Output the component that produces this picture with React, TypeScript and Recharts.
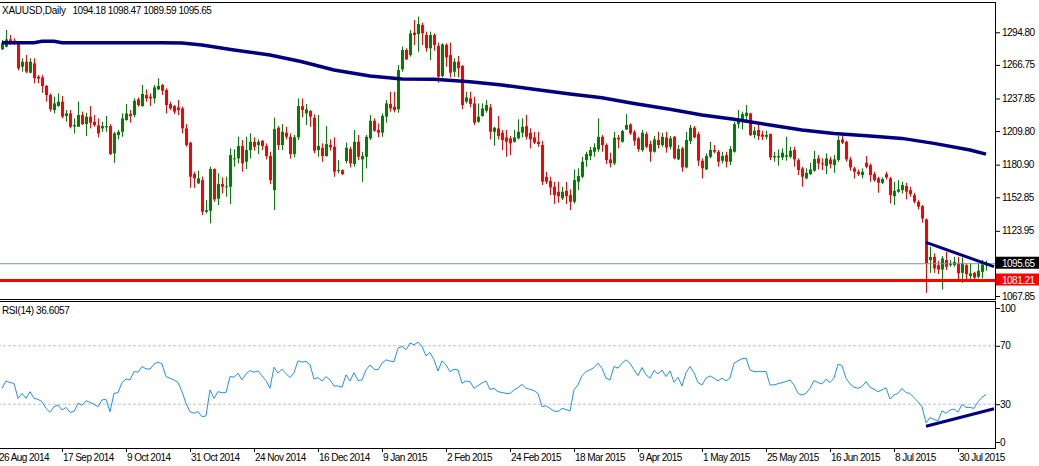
import React from 'react';
import { ComposedChart, Bar, Line, XAxis, YAxis, ReferenceLine } from 'recharts';

// XAUUSD daily candles (index 0 = first visible bar)
const opens = [
  1280.1, 1282.4, 1288.7, 1287.6, 1285.3, 1265.2, 1269.5, 1260.0, 1268.1, 1256.6,
  1256.0, 1248.6, 1240.8, 1227.9, 1231.3, 1235.1, 1222.7, 1225.0, 1213.8, 1213.5,
  1223.6, 1215.8, 1222.2, 1217.8, 1214.7, 1212.1, 1213.0, 1214.1, 1190.6, 1206.4,
  1209.2, 1219.3, 1224.4, 1223.6, 1237.1, 1231.3, 1240.8, 1239.4, 1237.9, 1245.7,
  1249.4, 1245.1, 1233.0, 1231.3, 1230.2, 1229.3, 1212.1, 1199.8, 1172.8, 1164.8,
  1167.6, 1140.4, 1141.2, 1177.1, 1151.6, 1164.2, 1161.6, 1161.9, 1185.7, 1186.3,
  1196.9, 1183.4, 1193.5, 1200.6, 1197.8, 1201.5, 1196.9, 1188.3, 1159.0, 1212.7,
  1197.8, 1208.4, 1204.9, 1190.0, 1204.4, 1231.3, 1225.0, 1227.0, 1221.3, 1193.5,
  1195.5, 1188.3, 1197.8, 1196.3, 1175.7, 1176.2, 1184.0, 1194.3, 1181.4, 1200.6,
  1185.4, 1187.7, 1203.5, 1218.7, 1210.7, 1208.4, 1222.2, 1233.1, 1230.8, 1228.5,
  1262.9, 1279.6, 1275.2, 1294.5, 1293.3, 1301.1, 1292.5, 1281.0, 1292.5, 1283.0,
  1257.2, 1283.9, 1275.2, 1260.9, 1269.5, 1265.8, 1235.1, 1237.9, 1233.6, 1217.8,
  1222.7, 1227.3, 1230.2, 1209.2, 1212.1, 1208.4, 1204.4, 1203.5, 1200.6, 1203.5,
  1208.4, 1214.1, 1208.4, 1204.4, 1200.6, 1197.8, 1170.5, 1166.8, 1161.9, 1157.6,
  1151.9, 1158.4, 1154.7, 1149.0, 1166.2, 1170.5, 1184.8, 1188.3, 1192.0, 1194.0,
  1204.9, 1197.8, 1185.4, 1182.0, 1204.1, 1200.6, 1211.2, 1215.5, 1208.9, 1203.5,
  1193.5, 1207.2, 1198.6, 1192.0, 1202.1, 1197.8, 1204.4, 1196.3, 1204.9, 1185.4,
  1194.9, 1178.5, 1201.2, 1212.7, 1207.2, 1184.3, 1176.8, 1187.7, 1193.5, 1192.0,
  1184.3, 1189.1, 1183.4, 1192.0, 1215.8, 1219.3, 1222.7, 1225.0, 1206.4, 1210.7,
  1206.9, 1204.9, 1207.2, 1187.1, 1187.1, 1187.1, 1187.7, 1187.7, 1193.5, 1184.8,
  1177.7, 1169.1, 1172.8, 1175.7, 1186.3, 1182.0, 1179.7, 1185.4, 1180.5, 1184.8,
  1202.6, 1200.6, 1185.4, 1177.7, 1174.8, 1171.9, 1182.5, 1180.5, 1172.8, 1169.1,
  1165.3, 1172.8, 1169.1, 1153.8, 1157.6, 1159.0, 1162.5, 1159.0, 1154.7, 1149.0,
  1145.2, 1133.8, 1098.8, 1101.6, 1094.4, 1090.7, 1098.8, 1094.4, 1094.4, 1095.9,
  1087.8, 1094.4, 1085.0, 1087.8, 1084.4, 1088.7, 1094.18,
];
const highs = [
  1288.2, 1296.8, 1292.5, 1289.6, 1287.0, 1272.4, 1275.2, 1272.4, 1272.4, 1258.0,
  1258.0, 1249.4, 1242.2, 1239.4, 1242.2, 1240.0, 1227.9, 1227.9, 1220.7, 1235.1,
  1226.5, 1225.6, 1231.3, 1223.6, 1220.7, 1217.8, 1222.7, 1215.8, 1209.2, 1210.7,
  1225.0, 1233.0, 1227.9, 1237.9, 1238.8, 1249.4, 1245.7, 1242.2, 1249.4, 1255.2,
  1250.3, 1246.5, 1235.1, 1232.2, 1236.5, 1230.8, 1215.8, 1200.6, 1174.8, 1175.7,
  1170.5, 1150.4, 1179.1, 1177.7, 1173.4, 1169.9, 1170.5, 1194.9, 1194.0, 1204.9,
  1202.1, 1204.9, 1207.8, 1204.4, 1202.6, 1202.1, 1199.2, 1192.0, 1221.3, 1214.1,
  1215.8, 1213.5, 1207.8, 1206.4, 1237.9, 1237.9, 1233.1, 1227.9, 1224.2, 1223.6,
  1199.2, 1214.1, 1202.6, 1204.4, 1184.8, 1176.8, 1199.8, 1196.3, 1210.7, 1206.4,
  1192.0, 1206.4, 1223.6, 1220.7, 1216.4, 1225.0, 1236.5, 1243.7, 1243.7, 1266.6,
  1282.4, 1281.0, 1296.8, 1305.4, 1308.3, 1303.1, 1295.3, 1295.3, 1293.9, 1285.9,
  1285.3, 1285.3, 1285.9, 1272.4, 1274.4, 1266.6, 1243.7, 1243.7, 1239.4, 1233.6,
  1233.6, 1236.5, 1233.1, 1213.5, 1222.7, 1210.7, 1210.7, 1205.5, 1210.7, 1219.9,
  1220.7, 1223.6, 1212.1, 1209.2, 1209.2, 1201.5, 1174.8, 1170.5, 1166.2, 1166.2,
  1161.9, 1166.2, 1159.6, 1176.8, 1177.7, 1187.7, 1192.0, 1196.3, 1199.2, 1220.7,
  1206.4, 1199.2, 1191.2, 1209.2, 1206.4, 1210.7, 1224.4, 1216.4, 1210.7, 1204.9,
  1210.7, 1209.2, 1201.5, 1205.5, 1209.2, 1208.4, 1209.2, 1205.5, 1205.5, 1197.8,
  1196.3, 1209.2, 1215.0, 1214.1, 1209.2, 1186.3, 1190.6, 1200.6, 1197.8, 1193.5,
  1192.0, 1192.0, 1196.9, 1217.8, 1227.9, 1226.5, 1232.2, 1225.6, 1213.5, 1217.0,
  1210.1, 1210.1, 1207.8, 1192.0, 1194.0, 1194.9, 1204.9, 1196.3, 1196.3, 1186.3,
  1179.1, 1177.7, 1182.5, 1192.9, 1189.1, 1186.3, 1190.6, 1187.7, 1189.1, 1205.5,
  1205.5, 1201.5, 1187.7, 1179.1, 1176.8, 1177.7, 1188.3, 1182.0, 1174.8, 1170.5,
  1169.9, 1174.8, 1170.5, 1166.2, 1167.6, 1166.2, 1165.3, 1161.9, 1156.7, 1150.4,
  1146.1, 1134.6, 1110.2, 1104.5, 1098.2, 1102.2, 1105.9, 1098.8, 1101.6, 1101.6,
  1101.0, 1095.9, 1095.9, 1088.7, 1095.9, 1098.8, 1098.47,
];
const lows = [
  1279.6, 1281.8, 1283.9, 1283.9, 1262.0, 1260.9, 1259.5, 1259.5, 1250.9, 1250.9,
  1242.8, 1235.1, 1226.5, 1225.0, 1230.8, 1220.7, 1217.9, 1212.1, 1207.8, 1213.5,
  1215.0, 1205.5, 1212.1, 1213.5, 1204.4, 1209.2, 1209.2, 1189.1, 1182.5, 1202.6,
  1204.9, 1218.7, 1217.0, 1221.6, 1230.8, 1230.8, 1235.1, 1231.3, 1233.6, 1245.1,
  1240.8, 1225.0, 1227.9, 1224.4, 1223.6, 1207.8, 1196.3, 1161.0, 1161.0, 1164.2,
  1137.5, 1138.9, 1130.3, 1149.0, 1146.1, 1156.1, 1153.3, 1147.0, 1179.1, 1182.0,
  1174.8, 1177.1, 1186.3, 1192.9, 1190.0, 1193.5, 1185.4, 1164.2, 1141.8, 1193.5,
  1193.5, 1202.6, 1186.0, 1187.1, 1202.1, 1221.6, 1215.0, 1213.5, 1190.6, 1187.7,
  1183.4, 1187.7, 1192.9, 1170.5, 1173.4, 1171.9, 1182.0, 1178.5, 1179.1, 1184.8,
  1166.2, 1177.7, 1202.1, 1209.2, 1204.4, 1204.9, 1217.0, 1226.5, 1225.9, 1225.6,
  1260.9, 1270.9, 1273.8, 1283.9, 1278.1, 1283.9, 1278.1, 1270.9, 1279.0, 1251.4,
  1256.0, 1265.2, 1256.0, 1256.6, 1256.0, 1228.5, 1233.6, 1230.2, 1215.0, 1217.0,
  1222.2, 1225.6, 1202.6, 1197.2, 1202.6, 1193.5, 1187.7, 1189.1, 1199.8, 1202.6,
  1204.4, 1202.6, 1194.9, 1198.6, 1196.3, 1163.3, 1164.2, 1154.7, 1147.0, 1148.1,
  1150.4, 1147.0, 1141.8, 1147.5, 1159.0, 1169.1, 1179.1, 1184.8, 1187.7, 1192.0,
  1192.0, 1181.4, 1178.5, 1180.5, 1194.9, 1199.8, 1210.7, 1206.4, 1197.2, 1192.0,
  1192.0, 1194.9, 1183.4, 1191.2, 1194.9, 1196.3, 1191.2, 1194.0, 1185.4, 1184.8,
  1174.8, 1177.7, 1198.6, 1203.5, 1179.7, 1169.1, 1176.2, 1186.3, 1190.6, 1179.1,
  1182.0, 1178.5, 1180.5, 1191.2, 1212.1, 1211.2, 1219.3, 1205.5, 1203.5, 1202.1,
  1202.1, 1202.6, 1184.8, 1183.4, 1180.0, 1184.8, 1184.3, 1186.3, 1179.1, 1171.9,
  1161.9, 1168.2, 1171.9, 1174.8, 1176.8, 1176.2, 1172.8, 1177.7, 1173.9, 1183.4,
  1198.6, 1183.4, 1175.7, 1169.1, 1171.1, 1169.1, 1177.7, 1166.2, 1166.2, 1156.7,
  1164.2, 1168.2, 1147.5, 1146.1, 1156.7, 1156.1, 1151.0, 1153.3, 1147.5, 1142.4,
  1130.9, 1070.6, 1087.8, 1087.8, 1086.7, 1073.5, 1090.1, 1093.0, 1093.0, 1081.5,
  1079.2, 1081.5, 1082.1, 1082.1, 1083.0, 1083.0, 1089.59,
];
const closes = [
  1285.9, 1288.7, 1285.3, 1284.7, 1263.8, 1269.5, 1260.9, 1269.5, 1255.2, 1254.9,
  1248.6, 1240.8, 1228.5, 1233.6, 1235.1, 1222.2, 1225.0, 1213.5, 1215.0, 1223.6,
  1215.8, 1222.2, 1217.0, 1215.0, 1207.8, 1214.1, 1214.1, 1190.0, 1207.8, 1209.2,
  1220.7, 1225.0, 1222.7, 1235.9, 1232.2, 1241.7, 1237.9, 1237.9, 1247.4, 1248.6,
  1244.5, 1232.2, 1229.3, 1226.5, 1227.9, 1212.1, 1197.8, 1170.5, 1169.1, 1169.1,
  1140.4, 1141.8, 1177.1, 1151.0, 1164.2, 1161.9, 1162.2, 1189.1, 1186.3, 1196.9,
  1182.0, 1193.5, 1200.6, 1196.3, 1200.6, 1196.9, 1188.3, 1167.6, 1211.5, 1197.8,
  1209.2, 1204.9, 1190.0, 1204.4, 1231.3, 1227.9, 1228.5, 1222.2, 1192.9, 1196.9,
  1188.3, 1198.6, 1195.8, 1174.8, 1176.2, 1172.8, 1195.5, 1182.0, 1200.6, 1187.7,
  1188.3, 1204.9, 1218.7, 1210.1, 1208.4, 1223.0, 1233.6, 1229.3, 1227.9, 1262.3,
  1279.6, 1271.5, 1293.9, 1292.5, 1301.9, 1293.9, 1281.0, 1292.5, 1283.9, 1256.6,
  1284.4, 1273.2, 1260.0, 1269.5, 1263.8, 1232.2, 1238.8, 1233.1, 1217.0, 1222.2,
  1229.3, 1232.2, 1209.2, 1212.7, 1205.5, 1202.1, 1200.6, 1199.2, 1204.4, 1209.2,
  1213.5, 1204.9, 1202.6, 1199.8, 1198.6, 1166.2, 1166.2, 1161.3, 1154.7, 1153.8,
  1157.6, 1153.8, 1149.0, 1167.6, 1171.1, 1183.4, 1190.0, 1193.5, 1195.8, 1204.9,
  1197.8, 1184.8, 1182.0, 1204.1, 1202.6, 1209.8, 1215.0, 1207.8, 1201.5, 1194.3,
  1208.4, 1196.3, 1192.0, 1202.6, 1197.8, 1204.9, 1195.5, 1203.5, 1186.3, 1194.3,
  1178.5, 1202.1, 1212.7, 1204.4, 1184.3, 1177.7, 1188.3, 1193.5, 1192.0, 1183.4,
  1188.3, 1183.4, 1194.3, 1215.8, 1218.7, 1224.4, 1225.6, 1206.4, 1210.1, 1205.5,
  1204.9, 1206.4, 1187.1, 1188.3, 1188.3, 1191.2, 1189.1, 1192.9, 1185.4, 1176.2,
  1170.5, 1173.9, 1176.8, 1185.7, 1182.0, 1181.1, 1186.3, 1181.4, 1185.4, 1202.1,
  1199.8, 1185.4, 1178.5, 1174.8, 1172.8, 1174.8, 1179.1, 1171.9, 1167.6, 1165.3,
  1168.5, 1169.9, 1154.7, 1158.4, 1159.6, 1163.3, 1157.6, 1155.6, 1149.0, 1144.7,
  1134.6, 1095.9, 1101.6, 1091.6, 1090.7, 1100.2, 1093.0, 1095.9, 1097.3, 1087.3,
  1096.4, 1086.7, 1087.3, 1083.8, 1089.6, 1095.0, 1095.65,
];

// 200-period moving average, sampled along the line
const maIdx = [0, 8, 10, 13, 15, 24, 32, 40, 45, 50, 58, 67, 75, 83, 92, 100, 108, 117, 125, 133, 142, 150, 158, 167, 175, 183, 192, 200, 208, 217, 225, 233, 242, 246];
const maVals = [1285.9, 1285.9, 1287.0, 1287.0, 1285.9, 1285.9, 1285.9, 1285.9, 1285.6, 1283.9, 1279.6, 1275.2, 1269.5, 1262.3, 1257.2, 1254.6, 1254.3, 1252.3, 1249.4, 1245.7, 1241.7, 1238.5, 1233.6, 1228.5, 1223.6, 1219.9, 1215.0, 1210.7, 1207.8, 1205.5, 1203.5, 1199.2, 1193.5, 1190.0];

// RSI(14), one value per bar
const rsi14 = [
  40.9, 45.9, 44.8, 44.3, 34.0, 37.4, 34.0, 38.6, 34.0, 33.3,
  31.7, 27.1, 24.4, 28.3, 29.4, 26.0, 27.8, 24.4, 25.0, 30.6,
  29.4, 32.4, 31.2, 30.0, 28.3, 32.9, 33.3, 24.8, 37.4, 37.9,
  44.8, 47.3, 46.6, 52.4, 51.9, 55.8, 54.2, 54.0, 57.5, 58.8,
  57.6, 48.9, 47.8, 46.6, 44.8, 38.6, 30.6, 24.8, 23.8, 25.0,
  21.4, 22.0, 39.8, 34.0, 38.6, 37.8, 38.0, 48.9, 48.5, 51.2,
  46.6, 50.8, 53.0, 51.9, 52.8, 49.4, 46.0, 40.9, 55.3, 51.2,
  54.0, 51.0, 48.2, 51.6, 59.7, 58.8, 59.3, 57.0, 47.3, 48.2,
  45.9, 48.9, 46.6, 42.5, 42.5, 41.6, 50.1, 45.9, 51.6, 46.2,
  46.6, 53.5, 56.9, 54.0, 53.5, 58.1, 60.4, 59.5, 59.2, 68.4,
  69.6, 67.3, 71.9, 70.7, 72.5, 69.6, 63.1, 65.4, 60.4, 52.8,
  59.7, 56.9, 52.3, 54.0, 53.5, 44.3, 45.9, 45.5, 40.9, 42.7,
  44.5, 45.9, 40.2, 40.8, 38.6, 38.0, 37.4, 37.4, 39.8, 41.3,
  43.6, 40.9, 40.2, 39.3, 37.4, 28.3, 28.9, 27.1, 25.3, 25.0,
  27.1, 26.4, 25.3, 39.8, 43.2, 49.6, 52.3, 53.5, 55.1, 58.1,
  54.5, 47.8, 46.6, 55.8, 54.7, 58.1, 60.4, 58.1, 53.5, 49.6,
  55.1, 50.1, 47.8, 53.0, 50.8, 53.5, 48.9, 52.8, 45.0, 48.4,
  42.5, 51.6, 55.8, 51.6, 44.8, 43.2, 47.8, 49.4, 47.8, 45.9,
  47.8, 45.9, 48.0, 58.0, 59.7, 61.1, 61.6, 53.5, 52.3, 52.3,
  52.3, 52.5, 43.2, 43.2, 44.0, 44.8, 45.5, 46.6, 43.2, 37.4,
  36.3, 37.4, 40.9, 46.2, 44.8, 43.9, 47.1, 44.8, 47.8, 57.4,
  56.5, 47.8, 43.9, 41.6, 40.9, 42.0, 45.5, 41.6, 40.2, 38.6,
  39.8, 41.3, 33.5, 36.3, 37.4, 40.9, 37.9, 37.4, 34.5, 31.7,
  28.3, 17.2, 20.9, 19.5, 18.6, 25.5, 23.8, 26.0, 26.7, 24.5,
  29.9, 27.8, 27.8, 27.1, 31.7, 34.7, 36.61,
];

const dateTicks = [-1, 15, 31, 47, 63, 79, 95, 111, 127, 143, 159, 175, 191, 207, 223, 239];
const dateLabels = ['26 Aug 2014', '17 Sep 2014', '9 Oct 2014', '31 Oct 2014', '24 Nov 2014', '16 Dec 2014', '9 Jan 2015', '2 Feb 2015', '24 Feb 2015', '18 Mar 2015', '9 Apr 2015', '1 May 2015', '25 May 2015', '16 Jun 2015', '8 Jul 2015', '30 Jul 2015'];
const priceTicks = [1294.8, 1266.75, 1237.85, 1209.8, 1180.9, 1152.85, 1123.95, 1095.65, 1081.21, 1067.85];
const rsiTicks = [0, 30, 70, 100];

const bidPrice = 1095.65;
const supportPrice = 1081.21;
const priceTrend = [{ i: 231, v: 1114.0 }, { i: 248, v: 1093.2 }];
const rsiTrend = [{ i: 231, v: 14.9 }, { i: 248, v: 26.9 }];

const FONT = '"Liberation Sans", Arial, sans-serif';
const NAVY = '#000080';

// categories -1..248, the last two are empty space on the right
const rows: any[] = [];
for (let i = -1; i <= 248; i++) {
  const has = i >= 0 && i < closes.length;
  const m = maIdx.indexOf(i);
  rows.push({
    i,
    o: has ? opens[i] : null,
    h: has ? highs[i] : null,
    l: has ? lows[i] : null,
    c: has ? closes[i] : null,
    ma: m >= 0 ? maVals[m] : null,
    rsi: has ? rsi14[i] : null,
  });
}

const Candle = (props: any) => {
  const { x, y, width, height, payload } = props;
  if (!payload || payload.h == null) return null;
  const { o, h, l, c } = payload;
  const k = h - l > 0 ? height / (h - l) : 0;
  const cx = Math.round(x + width / 2);
  const top = y + (h - Math.max(o, c)) * k;
  const bot = y + (h - Math.min(o, c)) * k;
  const color = c >= o ? '#008000' : '#ff0000';
  return (
    <g>
      <line x1={cx + 0.5} x2={cx + 0.5} y1={y} y2={y + height} stroke={color} strokeWidth={1} />
      <rect x={cx - 1} y={top} width={3} height={Math.max(1, bot - top)} fill={color} />
    </g>
  );
};

const PriceTick = (props: any) => {
  const { y, payload } = props;
  const v = payload.value;
  const txt = v.toFixed(2);
  if (v === bidPrice || v === supportPrice) {
    return (
      <g>
        <rect x={996} y={y - 7} width={43} height={12} fill={v === bidPrice ? '#000000' : '#ff0000'} />
        <text x={1002} y={y} dy="0.3em" fontSize={10} fontFamily={FONT} letterSpacing={-0.5} fill="#ffffff">{txt}</text>
      </g>
    );
  }
  return (
    <g>
      <line x1={996} x2={1000} y1={y + 0.5} y2={y + 0.5} stroke="#000" />
      <text x={1002} y={y} dy="0.35em" fontSize={10} fontFamily={FONT} letterSpacing={-0.5} fill="#000">{txt}</text>
    </g>
  );
};

const RsiTick = (props: any) => {
  const { y, payload } = props;
  const v = payload.value;
  const ty = v === 100 ? y + 6 : v === 0 ? y - 6 : y;
  return (
    <g>
      <line x1={996} x2={1000} y1={ty + 0.5} y2={ty + 0.5} stroke="#000" />
      <text x={1000} y={ty} dy="0.35em" fontSize={10} fontFamily={FONT} letterSpacing={-0.4} fill="#000">{v}</text>
    </g>
  );
};

const DateTick = (props: any) => {
  const { x, payload } = props;
  const label = dateLabels[dateTicks.indexOf(payload.value)];
  return (
    <g>
      <line x1={x + 0.5} x2={x + 0.5} y1={148} y2={152} stroke="#000" />
      <text x={x + 1} y={160.5} fontSize={10} fontFamily={FONT} letterSpacing={-0.55} fill="#000">{label}</text>
    </g>
  );
};

export default function App() {
  return (
    <div style={{ position: 'absolute', left: 0, top: 0, width: 1039, height: 466, background: '#fff', overflow: 'hidden' }}>
      <div style={{ position: 'absolute', left: 0, top: 0 }}>
        <ComposedChart width={1039} height={303} data={rows} margin={{ top: 3, right: 0, bottom: 4, left: -4 }}>
          <XAxis dataKey="i" type="category" scale="band" hide />
          <YAxis
            orientation="right"
            width={43}
            domain={[1065.3, 1320.0]}
            allowDataOverflow
            ticks={priceTicks}
            interval={0}
            axisLine={false}
            tickLine={false}
            tick={<PriceTick />}
          />
          <ReferenceLine y={bidPrice} stroke="#8090a0" strokeWidth={1} />
          <ReferenceLine y={supportPrice} stroke="#ff0000" strokeWidth={3} />
          <Bar
            dataKey={(d: any) => (d.h == null ? null : [d.l, d.h])}
            shape={<Candle />}
            isAnimationActive={false}
          />
          <Line dataKey="ma" type="linear" stroke={NAVY} strokeWidth={3.5} dot={false} connectNulls isAnimationActive={false} />
          <ReferenceLine
            segment={[{ x: priceTrend[0].i, y: priceTrend[0].v }, { x: priceTrend[1].i, y: priceTrend[1].v }]}
            stroke={NAVY}
            strokeWidth={3}
          />
        </ComposedChart>
      </div>
      <div style={{ position: 'absolute', left: 0, top: 300 }}>
        <ComposedChart width={1039} height={166} data={rows} margin={{ top: 2, right: 0, bottom: 0, left: -4 }}>
          <XAxis
            dataKey="i"
            type="category"
            scale="band"
            ticks={dateTicks}
            interval={0}
            height={18}
            axisLine={false}
            tickLine={false}
            tick={<DateTick />}
          />
          <YAxis
            orientation="right"
            width={43}
            domain={[0, 100]}
            ticks={rsiTicks}
            interval={0}
            axisLine={false}
            tickLine={false}
            tick={<RsiTick />}
          />
          <ReferenceLine y={70} stroke="#c0c0c0" strokeDasharray="3 2" />
          <ReferenceLine y={30} stroke="#c0c0c0" strokeDasharray="3 2" />
          <Line dataKey="rsi" type="linear" stroke="#1e90ff" strokeWidth={1} dot={false} connectNulls isAnimationActive={false} />
          <ReferenceLine
            segment={[{ x: rsiTrend[0].i, y: rsiTrend[0].v }, { x: rsiTrend[1].i, y: rsiTrend[1].v }]}
            stroke={NAVY}
            strokeWidth={3}
          />
        </ComposedChart>
      </div>
      {/* panel frames */}
      <div style={{ position: 'absolute', left: 0, top: 2, width: 996, height: 298, boxSizing: 'border-box', borderTop: '1px solid #000', borderRight: '1px solid #000', borderBottom: '1px solid #000', pointerEvents: 'none' }} />
      <div style={{ position: 'absolute', left: 0, top: 301, width: 996, height: 148, boxSizing: 'border-box', borderTop: '1px solid #000', borderRight: '1px solid #000', borderBottom: '1px solid #000', pointerEvents: 'none' }} />
      {/* titles */}
      <div style={{ position: 'absolute', left: 2, top: 5, fontFamily: FONT, fontSize: 10, lineHeight: '12px', letterSpacing: -0.25, color: '#000', whiteSpace: 'nowrap' }}>XAUUSD,Daily</div>
      <div style={{ position: 'absolute', left: 72.5, top: 5, fontFamily: FONT, fontSize: 10, lineHeight: '12px', letterSpacing: -0.45, color: '#000', whiteSpace: 'nowrap' }}>1094.18 1098.47 1089.59 1095.65</div>
      <div style={{ position: 'absolute', left: 2, top: 305, fontFamily: FONT, fontSize: 10, lineHeight: '12px', letterSpacing: -0.4, color: '#000', whiteSpace: 'nowrap' }}>RSI(14) 36.6057</div>
    </div>
  );
}
